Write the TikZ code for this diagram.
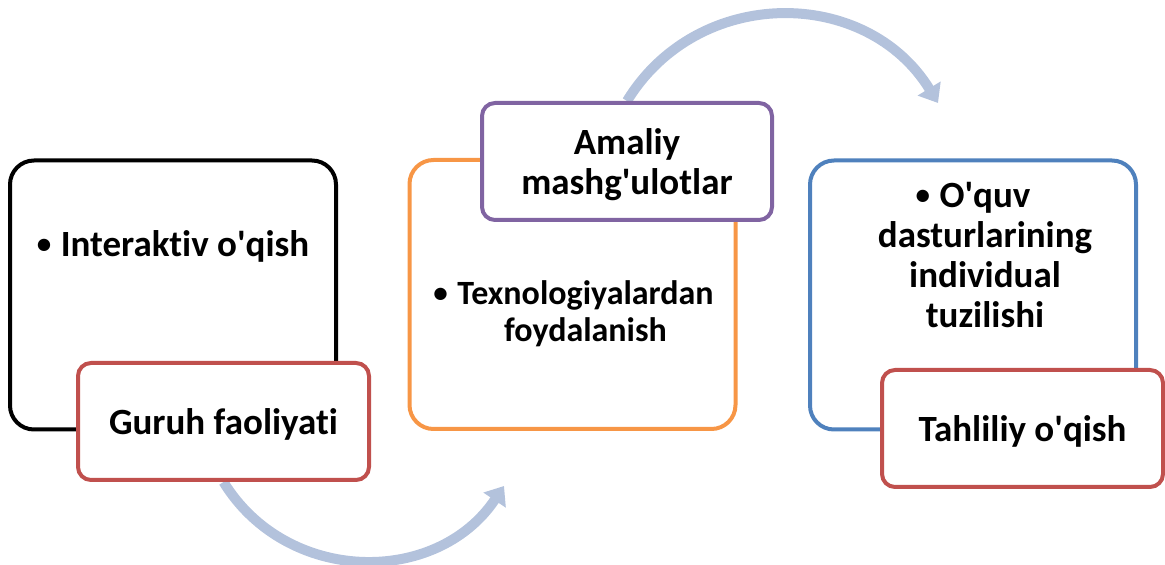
\documentclass[tikz,border=0pt]{standalone}
\usepackage{fontspec}
\setmainfont{Carlito}[Ligatures={TeX,NoCommon}]
\usetikzlibrary{arrows.meta,backgrounds}
\definecolor{arancio}{RGB}{247,150,70}
\definecolor{blu}{RGB}{79,129,189}
\definecolor{rosso}{RGB}{192,80,77}
\definecolor{viola}{RGB}{128,100,162}
\definecolor{freccia}{RGB}{179,194,220}
\newcommand{\punto}{\llap{\makebox[24pt][l]{\raisebox{2.5pt}{\fontsize{29}{29}\selectfont•}}}}

\begin{document}
\begin{tikzpicture}[x=1pt,y=1pt,
	mainbox/.style={draw,line width=4pt,rounded corners=24pt,minimum width=326pt,minimum height=269pt,inner sep=0pt},
	labelbox/.style={draw=rosso,fill=white,line width=4pt,rounded corners=13pt,minimum height=117pt,inner sep=0pt,text depth=0pt,align=center,font=\bfseries\fontsize{37}{40}\selectfont},
	boxtext/.style={align=center,inner sep=0pt,font=\bfseries\fontsize{37}{40}\selectfont},
	flow/.style={draw=freccia,line width=10pt,-{Triangle[length=17pt,width=26pt]}}]
	\useasboundingbox (0,0) rectangle (1165,565);

	% Riquadri principali
	\node[mainbox,draw=black] (interaktiv) at (173,270) {};
	\node[mainbox,draw=arancio] (texnologiya) at (572.5,270.5) {};
	\node[mainbox,draw=blu] (oquv) at (973,270) {};

	% Testi nei riquadri
	\node[boxtext] (interaktivtxt) at (185,319) {\punto Interaktiv o\textquotesingle qish};
	\node[boxtext,font=\bfseries\fontsize{34}{37}\selectfont] (texnologiyatxt) at (585.5,251) {\punto Texnologiyalardan\\foydalanish};
	\node[boxtext] (oquvtxt) at (985,310) {\punto O\textquotesingle quv\\dasturlarining\\individual\\tuzilishi};

	% Etichette
	\node[labelbox,minimum width=291pt] (guruh) at (223.5,143.5) {Guruh faoliyati};
	\node[labelbox,draw=viola,minimum width=290pt] (amaliy) at (627,403.5) {Amaliy\\mashg\textquotesingle ulotlar};
	\node[labelbox,minimum width=281pt] (tahlil) at (1022.5,136.5) {Tahliliy o\textquotesingle qish};

	% Frecce curve
	\coordinate (tipdown) at (504,79);
	\coordinate (tipup) at (938,462);
	\begin{scope}[on background layer]
		\draw[flow] (guruh.south) to[out=-58.4,in=236.2,looseness=1.1] (tipdown);
		\draw[flow] (amaliy.north) to[out=58.5,in=121.5,looseness=1.12] (tipup);
	\end{scope}
\end{tikzpicture}
\end{document}
